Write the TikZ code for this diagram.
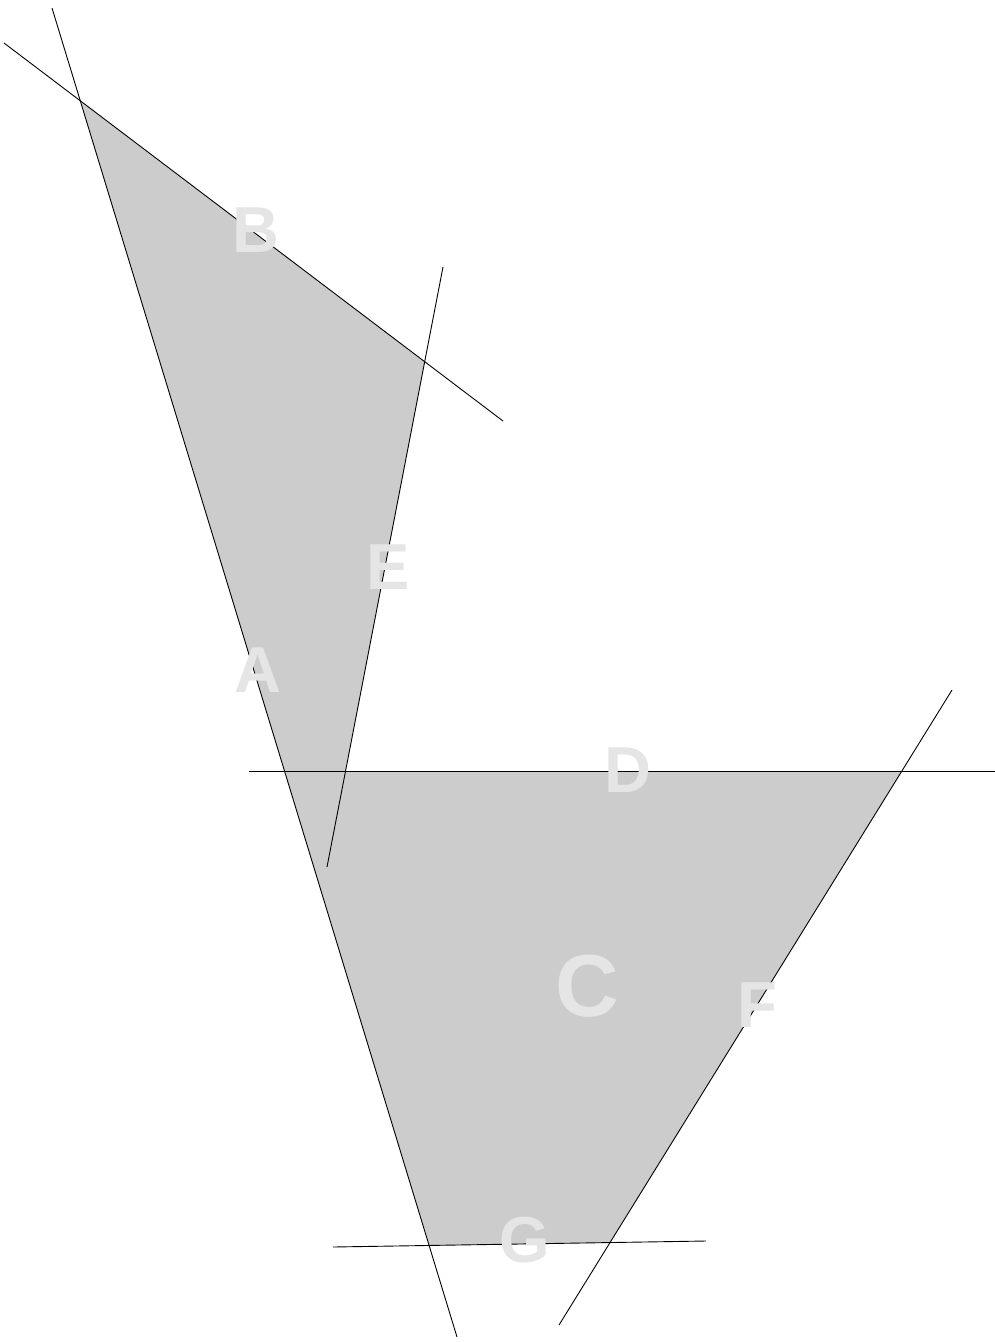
\documentclass[tikz,border=0pt]{standalone}
\usepackage{fontspec}
\setmainfont{Liberation Sans}
\begin{document}
\begin{tikzpicture}[x=1pt,y=-1pt,
  edge/.style={draw=black,line width=0.9pt},
  lbl/.style={text=black!10,font=\bfseries\fontsize{65}{65}\selectfont,inner sep=0pt,anchor=base},
  biglbl/.style={lbl,font=\bfseries\fontsize{88}{88}\selectfont}]
\useasboundingbox (0,0) rectangle (995,1342);
% line end points
\coordinate (a1) at (52,8);   \coordinate (a2) at (457,1337);
\coordinate (b1) at (4,43);   \coordinate (b2) at (503,421);
\coordinate (e1) at (443,267); \coordinate (e2) at (327,867);
\coordinate (d1) at (249,771.5); \coordinate (d2) at (995,771.5);
\coordinate (f1) at (952,690); \coordinate (f2) at (559,1325);
\coordinate (g1) at (333,1247); \coordinate (g2) at (706,1241);
% intersections
\coordinate (ab) at (intersection of a1--a2 and b1--b2);
\coordinate (be) at (intersection of b1--b2 and e1--e2);
\coordinate (ed) at (intersection of e1--e2 and d1--d2);
\coordinate (df) at (intersection of d1--d2 and f1--f2);
\coordinate (fg) at (intersection of f1--f2 and g1--g2);
\coordinate (ga) at (intersection of g1--g2 and a1--a2);
\fill[black!20] (ab) -- (be) -- (ed) -- (df) -- (fg) -- (ga) -- cycle;
\draw[edge] (a1) -- (a2);
\draw[edge] (b1) -- (b2);
\draw[edge] (e1) -- (e2);
\draw[edge] (d1) -- (d2);
\draw[edge] (f1) -- (f2);
\draw[edge] (g1) -- (g2);
\node[lbl] (B) at (256,252) {B};
\node[lbl] (E) at (388,589) {E};
\node[lbl] (A) at (258,692) {A};
\node[lbl] (D) at (628,792) {D};
\node[biglbl] (C) at (587,1016) {C};
\node[lbl] (F) at (757,1027) {F};
\node[lbl] (G) at (525,1262) {G};
\end{tikzpicture}
\end{document}
